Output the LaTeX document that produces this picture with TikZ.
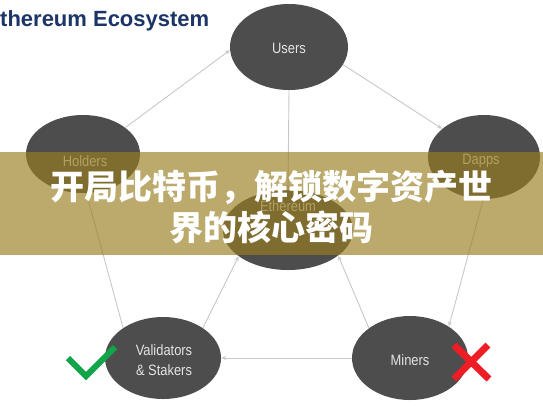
\documentclass[tikz,border=0pt]{standalone}
\usepackage{fontspec}
\setmainfont{Liberation Sans}
\newfontfamily\narrowfont{Liberation Sans}[FakeStretch=0.86]
\newfontfamily\cjk{Noto Sans CJK SC Black}
\usetikzlibrary{shapes.geometric,arrows.meta}
\definecolor{ellgray}{HTML}{4D4D4D}
\definecolor{lbltext}{HTML}{E4E4E4}
\definecolor{conngray}{HTML}{C8C8C8}
\definecolor{titleblue}{HTML}{1C3566}
\definecolor{bannercol}{RGB}{152,126,32}
\definecolor{checkgreen}{HTML}{12A44A}
\definecolor{xred}{HTML}{EE1C24}
\begin{document}
\begin{tikzpicture}[x=1pt,y=-1pt,
  ell/.style={ellipse,fill=ellgray,draw=none,inner sep=0pt},
  lbl/.style={text=lbltext,font=\narrowfont\fontsize{15}{20}\selectfont,align=center,inner sep=0pt},
  conn/.style={draw=conngray,line width=0.9pt,-{Stealth[length=5pt,width=4pt]}},
]
\useasboundingbox (0,0) rectangle (543,408);
\fill[white] (0,0) rectangle (543,408);

% title
\node[anchor=base west,font=\bfseries\fontsize{22}{26}\selectfont,text=titleblue,inner sep=0pt] (title) at (0,26) {thereum Ecosystem};

% ellipses
\node[ell,minimum width=118pt,minimum height=86pt] (users) at (289,47) {};
\node[ell,minimum width=114pt,minimum height=78pt] (holders) at (83,154) {};
\node[ell,minimum width=112pt,minimum height=84pt] (dapps) at (484,157) {};
\node[ell,minimum width=130pt,minimum height=80pt] (eth) at (288,230) {};
\node[ell,minimum width=116pt,minimum height=82pt] (valid) at (163,358) {};
\node[ell,minimum width=116pt,minimum height=84pt] (miners) at (410,358) {};

% labels
\node[lbl] (tusers) at (289,48) {Users};
\node[lbl] (tholders) at (85,161) {Holders};
\node[lbl] (tdapps) at (481,161) {Dapps};
\node[lbl] (teth) at (288,206) {Ethereum};
\node[lbl] (tvalid) at (164,360) {Validators\\\& Stakers};
\node[lbl] (tminers) at (410,360) {Miners};

% connectors
\draw[conn] (holders.32) -- (users.183);
\draw[conn] (users.-18) -- (dapps.146);
\draw[conn] (users.south) -- (eth.north);
\draw[conn] (valid.143) -- (holders.-85);
\draw[conn] (dapps.-91) -- (miners.39);
\draw[conn] (valid.37) -- (eth.208);
\draw[conn] (miners.144) -- (eth.333);
\draw[conn] (miners.west) -- (valid.east);

% marks
\draw[checkgreen,line width=6pt] (68,358) -- (86,376) -- (115,347);
\draw[xred,line width=7pt] (454,345) -- (489,379) (488,345) -- (454,379);

% banner
\fill[bannercol,opacity=0.66] (0,152) rectangle (543,255);
\node[font=\cjk\fontsize{34}{41}\selectfont,text=white,align=center,inner sep=0pt] (banner) at (271.5,207.5) {开局比特币，解锁数字资产世\\界的核心密码};
\end{tikzpicture}
\end{document}
